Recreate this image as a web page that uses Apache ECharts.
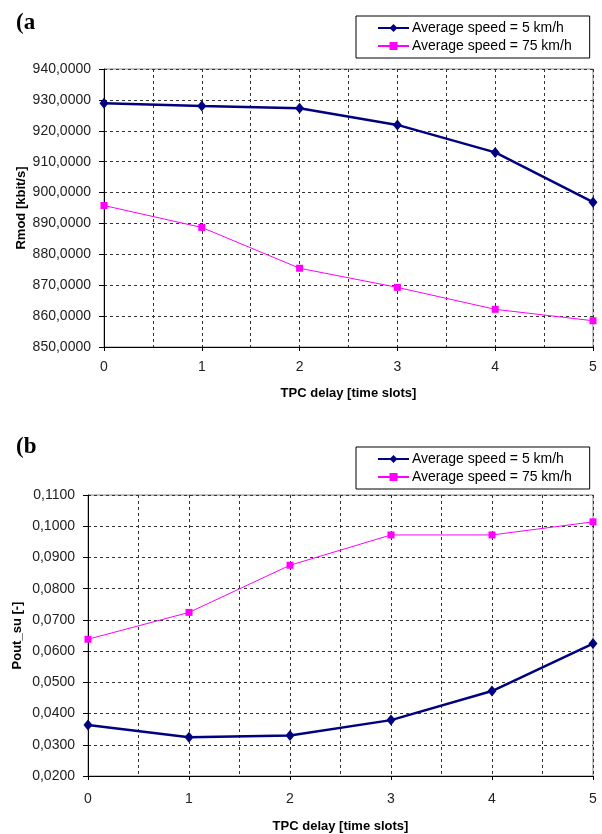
<!DOCTYPE html>
<html>
<head>
<meta charset="utf-8">
<script src="https://cdn.jsdelivr.net/npm/echarts@6/dist/echarts.min.js"></script>
<style>
  html, body { margin: 0; padding: 0; background: #fff; }
  #chart { width: 602px; height: 834px; }
</style>
</head>
<body>
<div id="chart"></div>
<script>
  // TPC delay [time slots]
  const delays = [0, 1, 2, 3, 4, 5];
  const seriesNames = ['Average speed = 5 km/h', 'Average speed = 75 km/h'];

  // (a) Rmod [kbit/s]
  const rmodSlow = [928.9, 928.0, 927.3, 921.9, 913.0, 896.9];
  const rmodFast = [895.8, 888.7, 875.5, 869.3, 862.2, 858.5];

  // (b) Pout_su [-]
  const poutSlow = [0.0363, 0.0324, 0.0330, 0.0379, 0.0472, 0.0624];
  const poutFast = [0.0638, 0.0724, 0.0875, 0.0972, 0.0972, 0.1014];

  const chart = echarts.init(document.getElementById('chart'));

  const font = 'Liberation Sans, Arial, sans-serif';
  const pair = (ys) => delays.map((x, i) => [x, ys[i]]);
  const fmt = (v) => v.toFixed(4).replace('.', ',');
  const dashed = { show: true, lineStyle: { color: '#333', type: [3, 3], width: 1 } };

  function xAxis(grid, gap, margin) {
    return {
      type: 'value', gridIndex: grid, min: 0, max: 5, interval: 1,
      name: 'TPC delay [time slots]', nameLocation: 'middle', nameGap: gap,
      nameMoveOverlap: false,
      nameTextStyle: { fontFamily: font, fontWeight: 'bold', fontSize: 13, color: '#000' },
      axisLine: { lineStyle: { color: '#000', width: 1 } },
      axisTick: { length: 4, lineStyle: { color: '#000' } },
      axisLabel: { fontFamily: font, fontSize: 14, color: '#222', margin: margin },
      splitLine: dashed,
      minorTick: { show: false, splitNumber: 2 },
      minorSplitLine: dashed
    };
  }

  function yAxis(grid, name, min, max, interval, gap) {
    return {
      type: 'value', gridIndex: grid, min: min, max: max, interval: interval,
      name: name, nameLocation: 'middle', nameGap: gap, nameRotate: 90,
      nameMoveOverlap: false,
      nameTextStyle: { fontFamily: font, fontWeight: 'bold', fontSize: 13, color: '#000' },
      axisLine: { show: true, lineStyle: { color: '#000', width: 1 } },
      axisTick: { show: true, length: 5, lineStyle: { color: '#000' } },
      axisLabel: { fontFamily: font, fontSize: 14, color: '#222', margin: 13, formatter: fmt },
      splitLine: dashed
    };
  }

  function slow(data, x, y) {
    return {
      name: seriesNames[0], type: 'line', xAxisIndex: x, yAxisIndex: y, data: data,
      symbol: 'diamond', symbolSize: [9, 11],
      lineStyle: { color: '#000080', width: 2.5 }, itemStyle: { color: '#000080' }
    };
  }

  function fast(data, x, y) {
    return {
      name: seriesNames[1], type: 'line', xAxisIndex: x, yAxisIndex: y, data: data,
      symbol: 'rect', symbolSize: 7,
      lineStyle: { color: '#ff00ff', width: 1 }, itemStyle: { color: '#ff00ff' }
    };
  }

  function legend(top) {
    return {
      data: seriesNames, orient: 'vertical', left: 356, top: top,
      backgroundColor: '#fff', borderColor: '#000', borderWidth: 1,
      padding: [5, 18, 5, 21], itemGap: 4, itemWidth: 31, itemHeight: 10,
      textStyle: { fontFamily: font, fontSize: 14, color: '#000', padding: [0, 0, 0, -2] },
      selectedMode: false
    };
  }

  const option = {
    backgroundColor: '#fff',
    animation: false,
    graphic: [
      { type: 'text', left: 16, top: 12, style: { text: '(a', font: 'bold 23px "Liberation Serif", serif', fill: '#000' } },
      { type: 'text', left: 16, top: 436, style: { text: '(b', font: 'bold 23px "Liberation Serif", serif', fill: '#000' } }
    ],
    legend: [legend(16), legend(447)],
    grid: [
      { left: 104, right: 9, top: 69, height: 278, show: true, borderColor: '#888', borderWidth: 1, backgroundColor: '#fff' },
      { left: 88, right: 9, top: 495, height: 283, show: true, borderColor: '#888', borderWidth: 1, backgroundColor: '#fff' }
    ],
    xAxis: [xAxis(0, 40, 13), xAxis(1, 44, 16)],
    yAxis: [
      yAxis(0, 'Rmod [kbit/s]', 850, 940, 10, 76),
      yAxis(1, 'Pout_su [-]', 0.02, 0.11, 0.01, 64)
    ],
    series: [
      slow(pair(rmodSlow), 0, 0),
      fast(pair(rmodFast), 0, 0),
      slow(pair(poutSlow), 1, 1),
      fast(pair(poutFast), 1, 1)
    ]
  };

  chart.setOption(option);
</script>
</body>
</html>
